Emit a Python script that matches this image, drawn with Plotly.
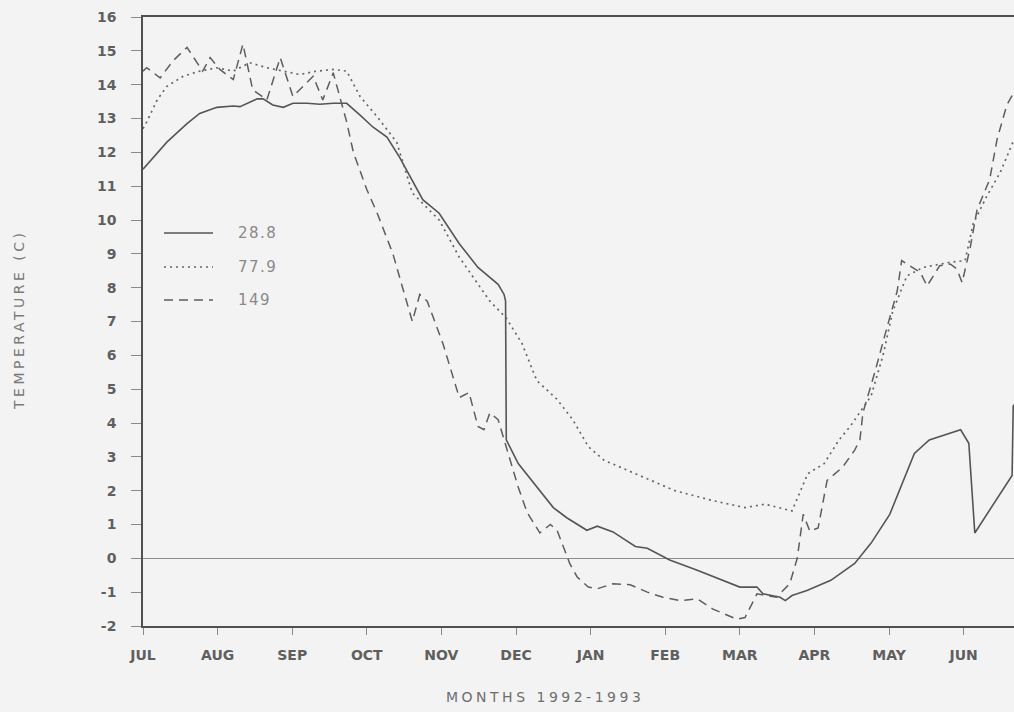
import plotly.graph_objects as go

# Month tick labels (month index 0 = 1 July 1992)
month_labels = ["JUL", "AUG", "SEP", "OCT", "NOV", "DEC",
                "JAN", "FEB", "MAR", "APR", "MAY", "JUN"]
month_ticks = list(range(12))

y_ticks = list(range(-2, 17))
y_ticktext = [str(v) for v in y_ticks]

# Depth 28.8 (solid)
m_288 = [0.00, 0.32, 0.59, 0.76, 0.99, 1.21, 1.30, 1.53, 1.61, 1.74, 1.88, 2.01,
         2.20, 2.37, 2.55, 2.73, 2.91, 3.08, 3.27, 3.44, 3.75, 3.97, 4.24, 4.49,
         4.76, 4.84, 4.86, 4.87, 5.03, 5.28, 5.50, 5.68, 5.95, 6.09, 6.30, 6.60,
         6.76, 7.06, 7.43, 8.00, 8.23, 8.31, 8.54, 8.61, 8.70, 8.77, 8.90, 9.22,
         9.54, 9.76, 10.01, 10.34, 10.54, 10.96, 11.07, 11.15, 11.65, 11.665, 11.70]
t_288 = [11.5, 12.3, 12.85, 13.15, 13.33, 13.37, 13.35, 13.58, 13.58, 13.4, 13.33, 13.45,
         13.45, 13.42, 13.45, 13.45, 13.1, 12.75, 12.45, 11.85, 10.6, 10.2, 9.3, 8.6,
         8.1, 7.8, 7.6, 3.5, 2.8, 2.1, 1.5, 1.2, 0.83, 0.95, 0.78, 0.35,
         0.3, -0.05, -0.35, -0.85, -0.85, -1.05, -1.15, -1.25, -1.1, -1.05, -0.95, -0.65,
         -0.15, 0.45, 1.3, 3.1, 3.5, 3.8, 3.4, 0.75, 2.45, 4.5, 4.6]

# Depth 77.9 (dotted)
m_779 = [0.00, 0.05, 0.19, 0.32, 0.54, 0.76, 0.99, 1.21, 1.43, 1.66, 1.88, 2.10,
         2.33, 2.55, 2.73, 2.91, 3.14, 3.40, 3.61, 3.97, 4.24, 4.49, 4.65, 4.87,
         5.08, 5.28, 5.55, 5.76, 5.97, 6.18, 6.60, 7.13, 7.65, 8.07, 8.34, 8.70,
         8.91, 9.13, 9.33, 9.48, 9.76, 9.92, 10.05, 10.24, 10.46, 10.82, 11.02, 11.13,
         11.31, 11.49, 11.68]
t_779 = [12.7, 12.9, 13.55, 13.95, 14.25, 14.4, 14.5, 14.4, 14.65, 14.5, 14.4, 14.3,
         14.4, 14.45, 14.4, 13.65, 13.05, 12.3, 10.8, 10.0, 8.9, 8.1, 7.6, 7.1,
         6.35, 5.25, 4.7, 4.1, 3.3, 2.9, 2.5, 2.0, 1.7, 1.5, 1.6, 1.4,
         2.5, 2.8, 3.5, 3.9, 4.8, 6.0, 7.3, 8.35, 8.6, 8.75, 8.8, 9.9,
         10.7, 11.4, 12.4]

# Depth 149 (dashed)
m_149 = [0.00, 0.05, 0.23, 0.40, 0.59, 0.72, 0.80, 0.90, 1.03, 1.21, 1.34, 1.47,
         1.66, 1.84, 2.01, 2.28, 2.41, 2.55, 2.68, 2.73, 2.82, 3.00, 3.14, 3.35,
         3.48, 3.61, 3.71, 3.81, 4.02, 4.24, 4.37, 4.49, 4.57, 4.65, 4.76, 4.87,
         5.03, 5.15, 5.32, 5.46, 5.55, 5.72, 5.82, 5.97, 6.09, 6.30, 6.53, 6.76,
         6.97, 7.20, 7.43, 7.64, 7.96, 8.07, 8.14, 8.23, 8.49, 8.67, 8.77, 8.85,
         8.94, 9.05, 9.17, 9.38, 9.54, 9.61, 9.65, 9.81, 9.97, 10.11, 10.17, 10.28,
         10.42, 10.51, 10.68, 10.82, 10.91, 10.98, 11.09, 11.18, 11.35, 11.45, 11.58,
         11.68]
t_149 = [14.4, 14.5, 14.2, 14.7, 15.1, 14.65, 14.4, 14.8, 14.45, 14.15, 15.2, 13.85,
         13.55, 14.8, 13.65, 14.25, 13.55, 14.35, 13.25, 12.9, 12.0, 10.9, 10.2, 9.0,
         8.0, 7.0, 7.8, 7.6, 6.35, 4.75, 4.9, 3.9, 3.8, 4.3, 4.1, 3.3,
         2.1, 1.35, 0.75, 1.0, 0.83, -0.15, -0.55, -0.85, -0.9, -0.75, -0.78, -1.0,
         -1.15, -1.25, -1.2, -1.5, -1.8, -1.75, -1.45, -1.05, -1.15, -0.75, 0.0, 1.3,
         0.8, 0.9, 2.3, 2.7, 3.2, 3.5, 4.3, 5.5, 6.8, 7.9, 8.8, 8.65,
         8.45, 8.05, 8.65, 8.7, 8.55, 8.15, 9.2, 10.3, 11.2, 12.4, 13.4,
         13.8]

series = [
    ("28.8", m_288, t_288, dict(color="#555555", width=1.6, dash="solid")),
    ("77.9", m_779, t_779, dict(color="#666666", width=1.7, dash="2px,4px")),
    ("149", m_149, t_149, dict(color="#5e5e5e", width=1.5, dash="9px,6px")),
]

W, H = 1014, 712
L, R, T, B = 143, 0, 17, 86
plot_w, plot_h = W - L - R, H - T - B


def paper_x(px):
    return (px - L) / plot_w


def paper_y(py):
    return (H - B - py) / plot_h


fig = go.Figure()
for name, xs, ys, line in series:
    fig.add_trace(go.Scatter(x=xs, y=ys, mode="lines", name=name,
                             line=line, showlegend=False, hoverinfo="skip"))

# Key: line sample plus label for each depth
key_rows = [233, 267, 300]
for (name, _, _, line), py in zip(series, key_rows):
    fig.add_shape(type="line", xref="paper", yref="paper",
                  x0=paper_x(164), x1=paper_x(213), y0=paper_y(py), y1=paper_y(py),
                  line=line)
    fig.add_annotation(xref="paper", yref="paper", x=paper_x(236), y=paper_y(py),
                       xanchor="left", yanchor="middle", showarrow=False,
                       text='<span style="letter-spacing:1.5px">%s</span>' % name,
                       font=dict(family="DejaVu Sans", size=15, color="#8a8a8a"))

# x-axis title
fig.add_annotation(xref="paper", yref="paper", x=paper_x(545), y=paper_y(697),
                   xanchor="center", yanchor="middle", showarrow=False,
                   text='<span style="letter-spacing:3.5px">MONTHS 1992-1993</span>',
                   font=dict(family="DejaVu Sans", size=14, color="#6e6e6e"))

# y-axis title
fig.add_annotation(xref="paper", yref="paper", x=paper_x(19), y=paper_y(320),
                   xanchor="center", yanchor="middle", showarrow=False, textangle=-90,
                   text='<span style="letter-spacing:3.5px">TEMPERATURE (C)</span>',
                   font=dict(family="DejaVu Sans", size=14, color="#7a7a7a"))

tick_font = dict(family="DejaVu Sans", size=14, color="#5f5f5f", weight="bold")

fig.update_layout(
    width=W, height=H,
    margin=dict(l=L, r=R, t=T, b=B, autoexpand=False),
    paper_bgcolor="#f3f3f3", plot_bgcolor="#f3f3f3",
    xaxis=dict(range=[0, (W - L - R) / 74.6], tickvals=month_ticks, ticktext=month_labels,
               showgrid=False, zeroline=False, showline=True, linecolor="#505050",
               linewidth=2, mirror=True, ticks="outside", ticklen=7, tickwidth=1,
               tickcolor="#8a8a8a", tickfont=tick_font, ticklabelstandoff=8,
               fixedrange=True),
    yaxis=dict(range=[-2, 16], tickvals=y_ticks, ticktext=y_ticktext,
               showgrid=False, zeroline=True, zerolinecolor="#8c8c8c", zerolinewidth=1,
               showline=True, linecolor="#505050", linewidth=1.6,
               ticks="outside", ticklen=10, tickwidth=1, tickcolor="#8a8a8a",
               tickfont=tick_font, ticklabelstandoff=12, fixedrange=True),
)

fig.write_html("out.html")
